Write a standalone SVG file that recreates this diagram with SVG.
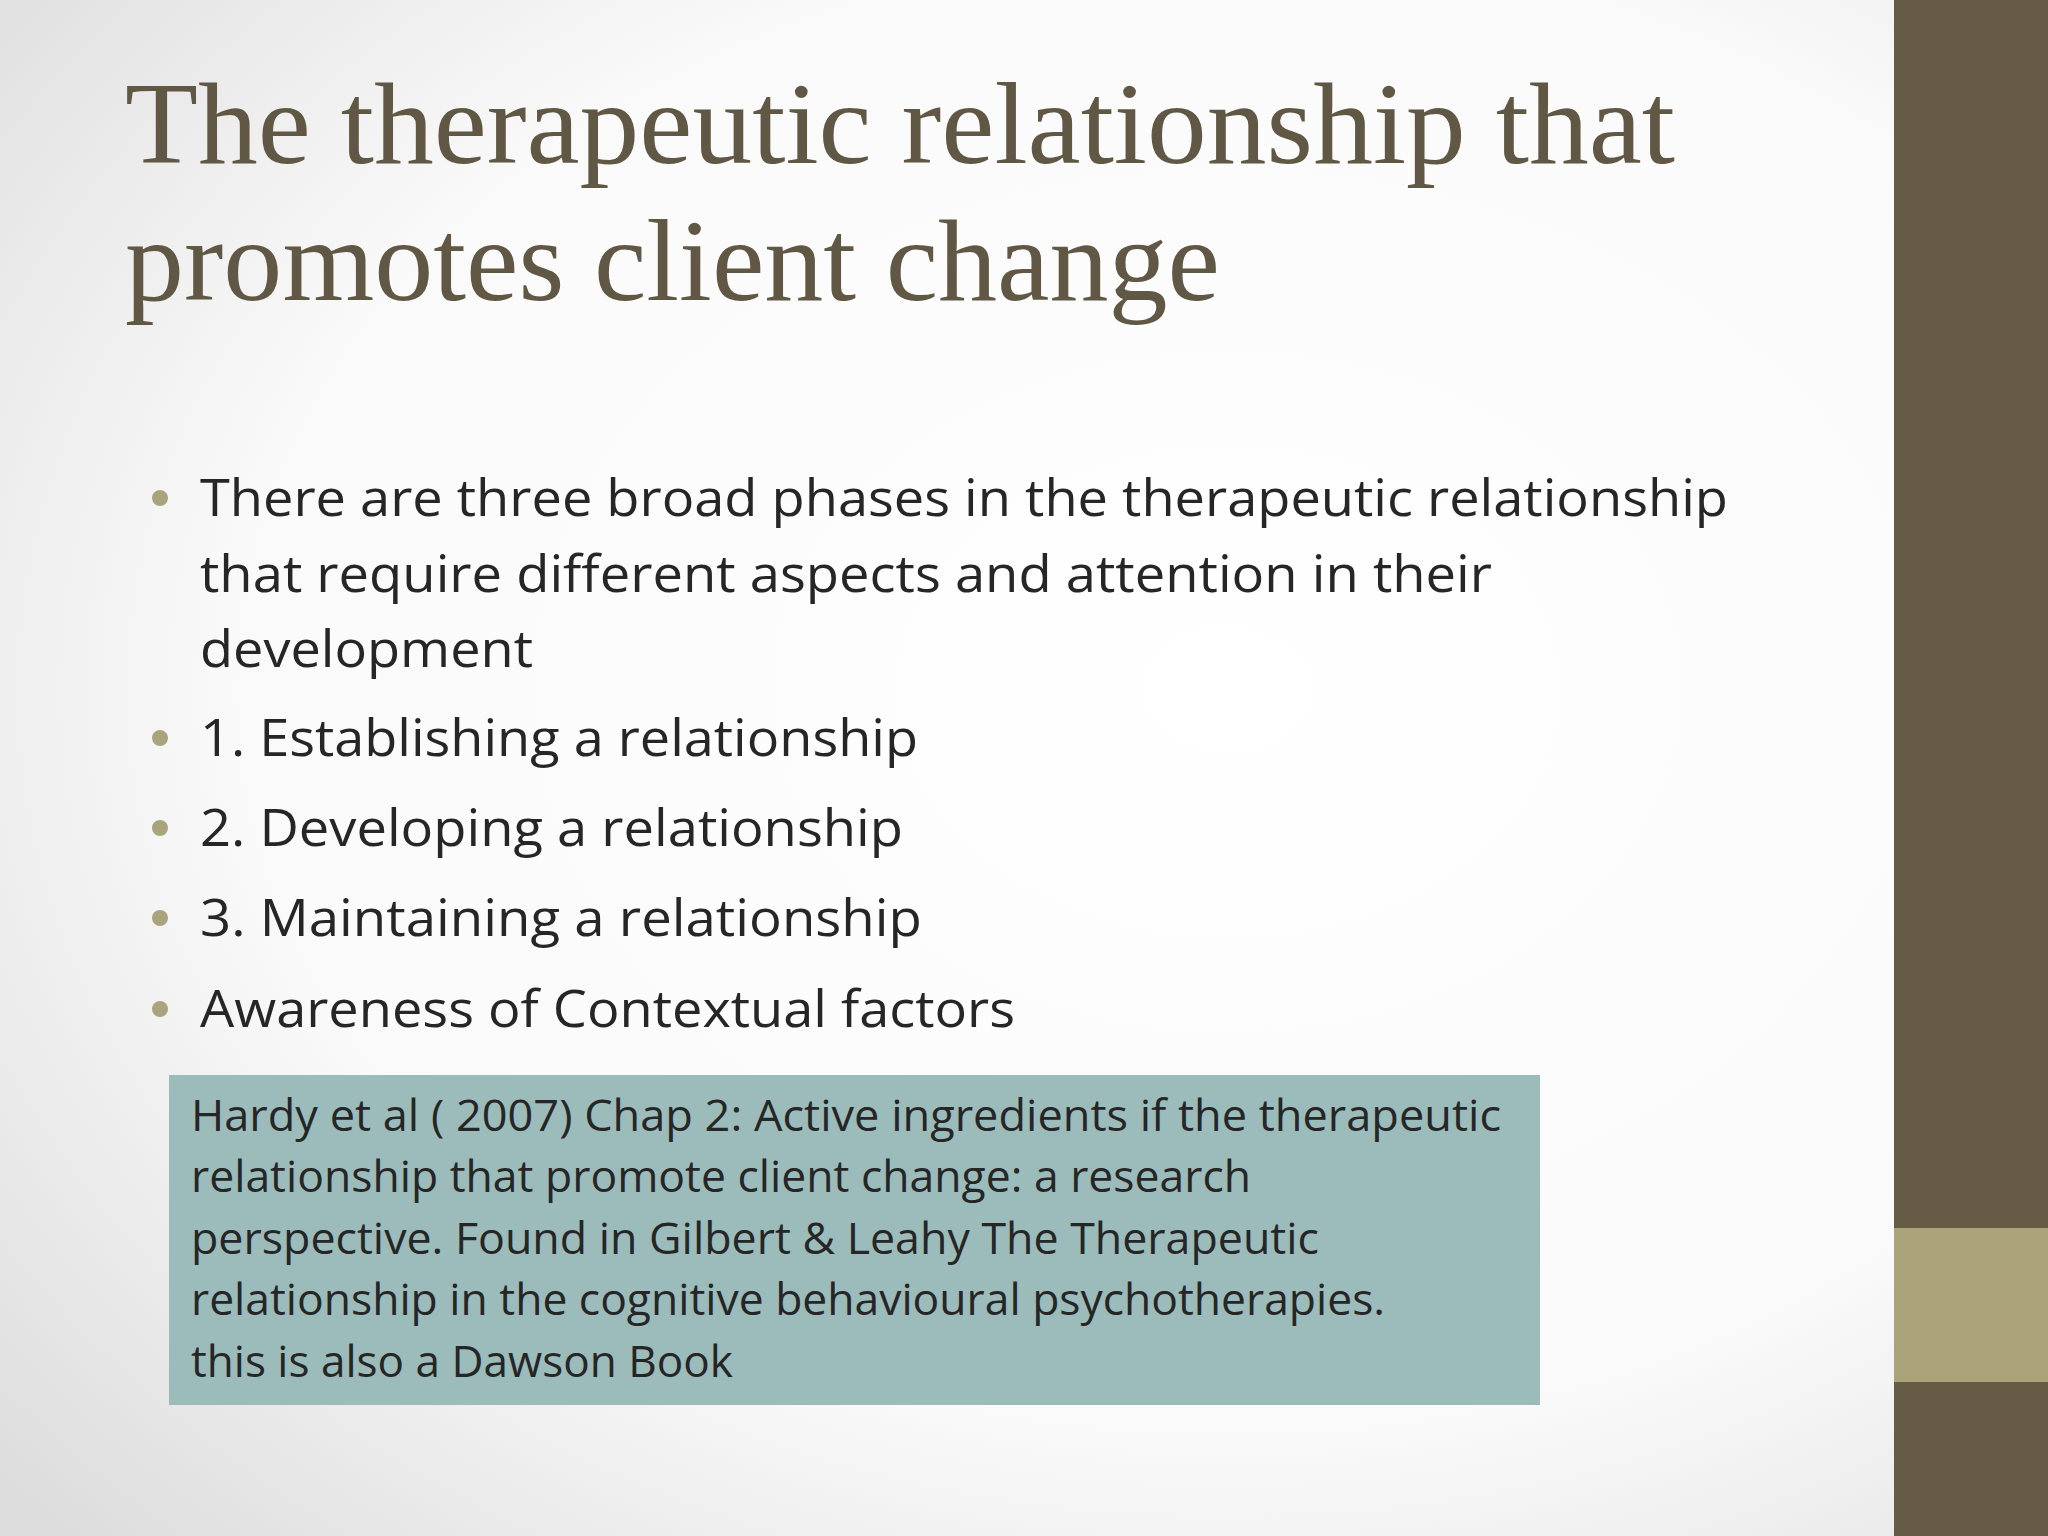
<svg xmlns="http://www.w3.org/2000/svg" width="2048" height="1536" viewBox="0 0 2048 1536">
<defs>
<radialGradient id="bg" cx="0.6" cy="0.45" r="0.8">
<stop offset="0" stop-color="#ffffff"/><stop offset="0.6" stop-color="#fafafa"/><stop offset="1" stop-color="#dcdcdc"/>
</radialGradient>
<style>
.t{font-family:"Liberation Serif","DejaVu Serif",serif;font-size:116px;fill:#605844}
.b{font-family:"Open Sans","Noto Sans",sans-serif;font-size:52px;fill:#262626}
.d{fill:#a9a47e}
.r{font-family:"Open Sans","Noto Sans",sans-serif;font-size:43px;fill:#262626}
</style>
</defs>
<rect width="2048" height="1536" fill="url(#bg)"/>
<g id="sidebar">
<rect x="1894" y="0" width="154" height="1536" fill="#665c46"/>
<rect x="1894" y="1228" width="154" height="154" fill="#aba37a"/>
</g>
<g id="title">
<text class="t" x="125" y="163" textLength="1550" lengthAdjust="spacingAndGlyphs">The therapeutic relationship that</text>
<text class="t" x="125" y="300" textLength="1095" lengthAdjust="spacingAndGlyphs">promotes client change</text>
</g>
<g id="bullets">
<circle class="d" cx="160" cy="498" r="8"/>
<text class="b" x="200" y="516" textLength="1528" lengthAdjust="spacingAndGlyphs">There are three broad phases in the therapeutic relationship</text>
<text class="b" x="200" y="592" textLength="1292" lengthAdjust="spacingAndGlyphs">that require different aspects and attention in their</text>
<text class="b" x="200" y="667" textLength="333" lengthAdjust="spacingAndGlyphs">development</text>
<circle class="d" cx="160" cy="738" r="8"/>
<text class="b" x="200" y="756" textLength="718" lengthAdjust="spacingAndGlyphs">1. Establishing a relationship</text>
<circle class="d" cx="160" cy="828" r="8"/>
<text class="b" x="200" y="846" textLength="703" lengthAdjust="spacingAndGlyphs">2. Developing a relationship</text>
<circle class="d" cx="160" cy="918" r="8"/>
<text class="b" x="200" y="936" textLength="722" lengthAdjust="spacingAndGlyphs">3. Maintaining a relationship</text>
<circle class="d" cx="160" cy="1009" r="8"/>
<text class="b" x="200" y="1027" textLength="815" lengthAdjust="spacingAndGlyphs">Awareness of Contextual factors</text>
</g>
<g id="reference">
<rect x="169" y="1075" width="1371" height="330" fill="#9bbcbb"/>
<text class="r" x="191" y="1131" textLength="1310" lengthAdjust="spacingAndGlyphs">Hardy et al ( 2007) Chap 2: Active ingredients if the therapeutic</text>
<text class="r" x="191" y="1192" textLength="1060" lengthAdjust="spacingAndGlyphs">relationship that promote client change: a research</text>
<text class="r" x="191" y="1254" textLength="1128" lengthAdjust="spacingAndGlyphs">perspective. Found in Gilbert &amp; Leahy The Therapeutic</text>
<text class="r" x="191" y="1315" textLength="1194" lengthAdjust="spacingAndGlyphs">relationship in the cognitive behavioural psychotherapies.</text>
<text class="r" x="191" y="1377" textLength="542" lengthAdjust="spacingAndGlyphs">this is also a Dawson Book</text>
</g>
</svg>
